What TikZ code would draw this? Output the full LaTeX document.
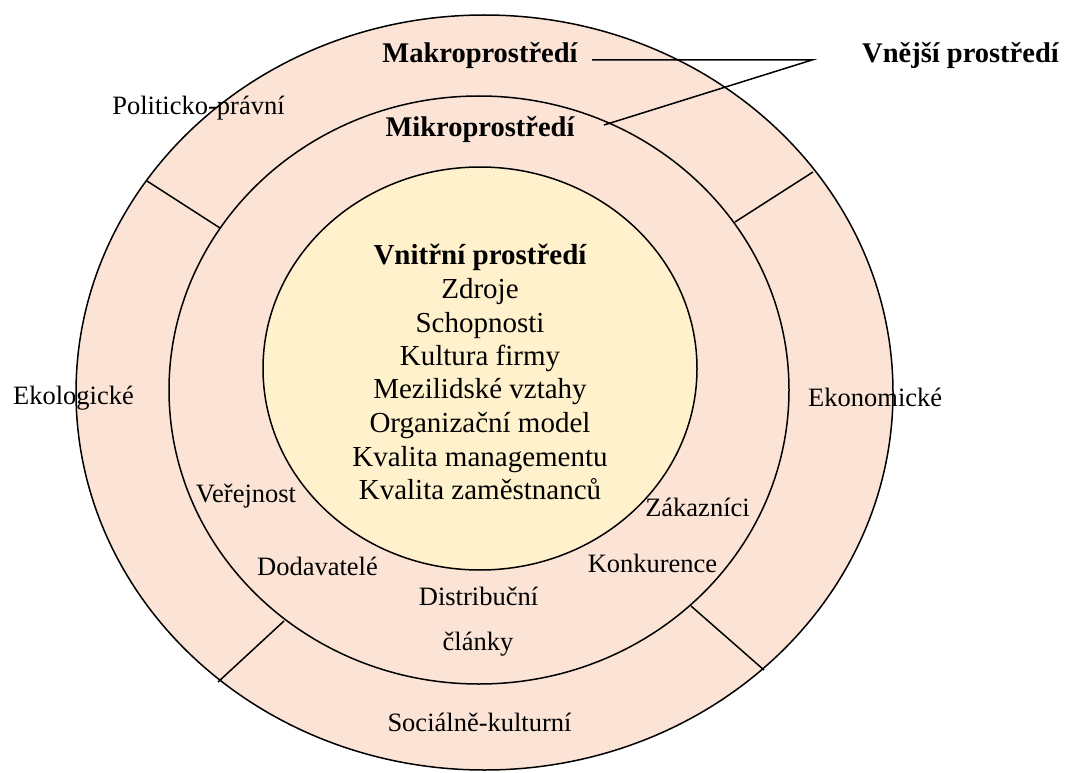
\documentclass[tikz,border=0pt]{standalone}
\usepackage{fontspec}
\setmainfont{Liberation Serif}
\definecolor{peach}{HTML}{FBE3D6}
\definecolor{cream}{HTML}{FFF1CC}
\tikzset{
  ring/.style={draw=black, line width=1.5pt},
  lbl/.style={inner sep=0pt, anchor=base, font=\fontsize{26.5}{30}\selectfont},
  inl/.style={inner sep=0pt, anchor=base, font=\fontsize{29}{33}\selectfont},
  head/.style={inner sep=0pt, anchor=base, font=\fontsize{28.5}{33}\selectfont\bfseries},
  div/.style={draw=black, line width=1.5pt},
  lead/.style={draw=black, line width=1.5pt}
}
\begin{document}
\begin{tikzpicture}[x=1pt,y=-1pt]
\useasboundingbox (0,0) rectangle (1066,773);
% rings
\path[ring, fill=peach] (484.5,392.5) ellipse [x radius=408.5pt, y radius=377.5pt];
\path[ring, fill=peach] (479,390) ellipse [x radius=310pt, y radius=294pt];
\path[ring, fill=cream] (480,368.5) ellipse [x radius=217pt, y radius=201.5pt];
% dividers
\coordinate (ul1) at (147,181); \coordinate (ul2) at (220,228);
\coordinate (ur1) at (813,172); \coordinate (ur2) at (735,222);
\coordinate (ll1) at (218,682); \coordinate (ll2) at (284,621);
\coordinate (lr1) at (764,670); \coordinate (lr2) at (691,606);
\draw[div] (ul1) -- (ul2);
\draw[div] (ur1) -- (ur2);
\draw[div] (ll1) -- (ll2);
\draw[div] (lr1) -- (lr2);
% headings
\node[head] (makro) at (480,63) {Makroprostředí};
\node[head] (mikro) at (480,137) {Mikroprostředí};
\node[head, anchor=base west] (vnejsi) at (862,63) {Vnější prostředí};
% leader lines
\coordinate (mk) at (592,60);
\coordinate (jn) at (812,60);
\coordinate (mi) at (604,125);
\draw[lead] (mk) -- (jn) -- (mi);
% outer labels
\node[lbl] (pol) at (198.5,115) {Politicko-právní};
\node[lbl] (eko) at (73.5,404) {Ekologické};
\node[lbl, anchor=base west] (ekon) at (808,406) {Ekonomické};
\node[lbl] (soc) at (479.5,731) {Sociálně-kulturní};
% micro labels
\node[lbl] (ver) at (246,502) {Veřejnost};
\node[lbl] (dod) at (317.5,575) {Dodavatelé};
\node[lbl] (dis) at (478.5,605) {Distribuční};
\node[lbl] (cla) at (478,650) {články};
\node[lbl] (zak) at (697.5,516) {Zákazníci};
\node[lbl] (kon) at (652.5,572) {Konkurence};
% inner
\node[inl, font=\fontsize{29}{33}\selectfont\bfseries] (vni) at (480,264) {Vnitřní prostředí};
\node[inl] (i1) at (480,298) {Zdroje};
\node[inl] (i2) at (480,332) {Schopnosti};
\node[inl] (i3) at (480,365) {Kultura firmy};
\node[inl] (i4) at (480,398) {Mezilidské vztahy};
\node[inl] (i5) at (480,432) {Organizační model};
\node[inl] (i6) at (480,466) {Kvalita managementu};
\node[inl] (i7) at (480,499) {Kvalita zaměstnanců};
\end{tikzpicture}
\end{document}
